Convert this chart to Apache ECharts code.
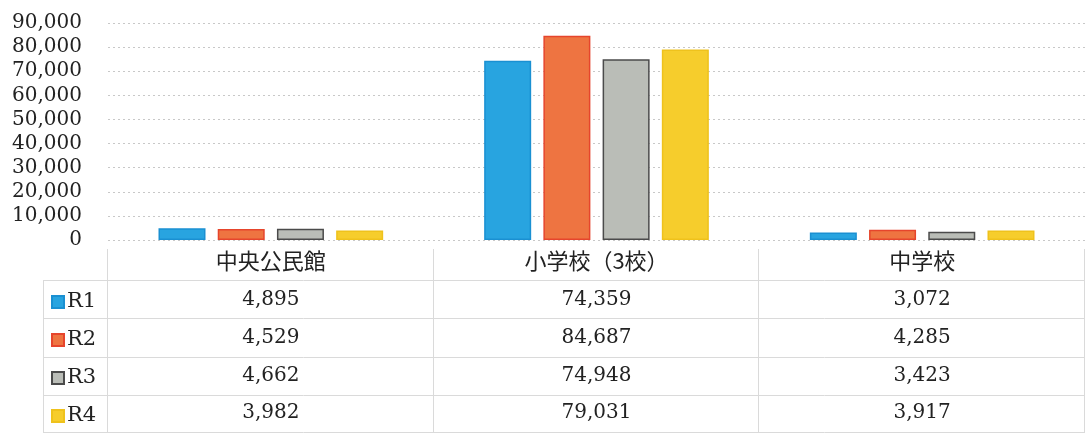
<!DOCTYPE html>
<html><head><meta charset="utf-8">
<script src="https://cdn.jsdelivr.net/npm/echarts@6/dist/echarts.min.js"></script>
<style>html,body{margin:0;padding:0;background:#fff}#c{width:1091px;height:447px}</style>
</head><body><div id="c"></div>
<script>
const categories = ['中央公民館', '小学校（3校）', '中学校'];
const seriesNames = ['R1', 'R2', 'R3', 'R4'];
const valuesR1 = [4895, 74359, 3072];
const valuesR2 = [4529, 84687, 4285];
const valuesR3 = [4662, 74948, 3423];
const valuesR4 = [3982, 79031, 3917];
const yMax = 90000;
const yStep = 10000;

const allValues = [valuesR1, valuesR2, valuesR3, valuesR4];
const fills = ['#28a4e0', '#ee7441', '#babdb7', '#f6cd2c'];
const borders = ['#1a90d2', '#e6452c', '#4b4b4b', '#efc21c'];
const serif = 'DejaVu Serif';
const cjk = 'Noto Sans CJK JP';
const fmt = v => v.toLocaleString('en-US');

const chart = echarts.init(document.getElementById('c'), null, {renderer: 'canvas'});
chart.setOption({
  animation: false,
  backgroundColor: '#ffffff',
  grid: {left: 108, right: 6, top: 23, bottom: 207, containLabel: false},
  legend: {
    orient: 'vertical', left: 46, top: 286,
    itemWidth: 12, itemHeight: 12, itemGap: 16,
    icon: 'rect',
    textStyle: {fontFamily: serif, fontSize: 21, color: '#222', lineHeight: 22, padding: [0,0,0,-2]},
    data: seriesNames
  },
  xAxis: {
    type: 'category', data: categories,
    axisLine: {show: false}, axisTick: {show: false},
    axisLabel: {fontFamily: cjk, fontSize: 22, color: '#222', margin: 10, lineHeight: 22, interval: 0}
  },
  yAxis: {
    type: 'value', min: 0, max: yMax, interval: yStep,
    axisLine: {show: false}, axisTick: {show: false},
    axisLabel: {fontFamily: serif, fontSize: 20, color: '#222', margin: 26, formatter: fmt},
    splitLine: {lineStyle: {color: '#c8c8c8', type: [2, 3], width: 1}}
  },
  series: seriesNames.map((n, i) => ({
    name: n, type: 'bar', data: allValues[i],
    barWidth: 47, barGap: '26%',
    itemStyle: {color: fills[i], borderColor: borders[i], borderWidth: 1.5}
  }))
});

// data table under the chart, aligned to the category axis
const rowY = [300, 338, 376, 413];
const lineColor = '#dadada';
const centers = categories.map((c, i) => chart.convertToPixel({xAxisIndex: 0}, i));
const band = centers.length > 1 ? centers[1] - centers[0] : 300;
const gfx = [];
categories.forEach((c, ci) => {
  allValues.forEach((arr, ri) => {
    gfx.push({type: 'text', x: centers[ci], y: rowY[ri],
      style: {text: fmt(arr[ci]), fontFamily: serif, fontSize: 20, fill: '#222', align: 'center', verticalAlign: 'middle'}});
  });
});
const tableTop = 249, tableBottom = 432;
const leftEdge = centers[0] - band / 2;
const rightEdge = centers[centers.length - 1] + band / 2;
for (let k = 0; k <= categories.length; k++) {
  const x = Math.round(leftEdge + k * band) - 0.5;
  gfx.push({type: 'line', shape: {x1: x, y1: tableTop, x2: x, y2: tableBottom}, style: {stroke: lineColor, lineWidth: 1}});
}
gfx.push({type: 'line', shape: {x1: 43.5, y1: 280, x2: 43.5, y2: tableBottom}, style: {stroke: lineColor, lineWidth: 1}});
const hLines = [280, 318, 357, 395, 432];
hLines.forEach((y) => {
  gfx.push({type: 'line', shape: {x1: 43, y1: y + 0.5, x2: rightEdge, y2: y + 0.5}, style: {stroke: lineColor, lineWidth: 1}});
});
chart.setOption({graphic: gfx});
</script>
</body></html>
